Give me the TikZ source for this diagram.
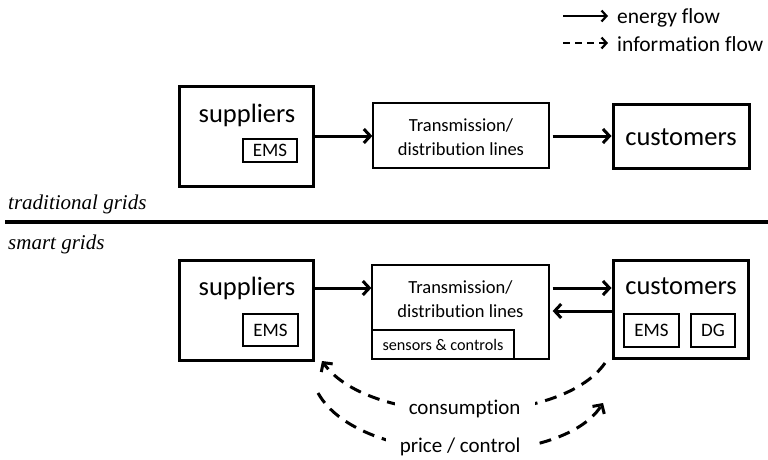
\documentclass[tikz,border=0pt]{standalone}
\usepackage{fontspec}
\setmainfont{Carlito}[Ligatures={NoCommon}]
\newfontfamily\lblfont{Liberation Serif}
\usetikzlibrary{arrows.meta}
\begin{document}
\begin{tikzpicture}[x=1pt,y=-1pt,
  bigbox/.style={draw, line width=3pt, inner sep=0pt},
  thinbox/.style={draw, line width=1.3pt, inner sep=0pt},
  flow/.style={line width=3pt, -{Straight Barb[length=6.5pt,width=14pt]}},
  info/.style={line width=3pt, dash pattern=on 12pt off 8pt, -{Straight Barb[length=6.5pt,width=14pt]}},
  legflow/.style={line width=2.2pt, -{Straight Barb[length=5pt,width=11pt]}},
  leginfo/.style={line width=2.2pt, dash pattern=on 7pt off 5pt, -{Straight Barb[length=5pt,width=11pt]}},
  bigtxt/.style={font=\fontsize{26.5}{30}\selectfont, inner sep=0pt},
  midtxt/.style={font=\fontsize{18.5}{24}\selectfont, align=center, inner sep=0pt},
  subbox/.style={thinbox, font=\fontsize{19}{22}\selectfont},
  sectlbl/.style={font=\lblfont\itshape\fontsize{21}{24}\selectfont, anchor=base west, inner sep=0pt},
  legtxt/.style={font=\fontsize{21.5}{24}\selectfont, anchor=base west, inner sep=0pt},
  flowlbl/.style={font=\fontsize{21}{24}\selectfont, fill=white, inner xsep=14pt, inner ysep=1pt}
]
\useasboundingbox (0,0) rectangle (768,459);

% legend
\coordinate (l1a) at (563,16);
\coordinate (l1b) at (608,16);
\coordinate (l2a) at (563,43);
\coordinate (l2b) at (608,43);
\draw[legflow] (l1a) -- (l1b);
\draw[leginfo] (l2a) -- (l2b);
\node[legtxt] (leg1) at (617,23) {energy flow};
\node[legtxt] (leg2) at (617,51) {information flow};

% traditional grids
\node[bigbox, minimum width=134pt, minimum height=100pt] (sup1) at (246,136) {};
\node[bigtxt, anchor=base] (sup1t) at (247,122) {suppliers};
\node[subbox, minimum width=54pt, minimum height=23pt] (ems1) at (270,150.5) {EMS};
\node[thinbox, minimum width=176pt, minimum height=65pt] (tr1) at (461,135.5) {};
\node[midtxt] (tr1t) at (461,137) {Transmission/\\distribution lines};
\node[bigbox, minimum width=136pt, minimum height=64pt] (cus1) at (681,136) {};
\node[bigtxt, anchor=base] (cus1t) at (681,145) {customers};
\draw[flow] (sup1.east |- 0,136) -- (tr1.west |- 0,136);
\draw[flow, shorten <=3pt] (tr1.east |- 0,136) -- (cus1.west |- 0,136);

\node[sectlbl] (trad) at (8,209) {traditional grids};
\coordinate (divL) at (5,222);
\coordinate (divR) at (768,222);
\draw[line width=3.5pt] (divL) -- (divR);
\node[sectlbl] (smart) at (8,249) {smart grids};

% smart grids
\node[bigbox, minimum width=134pt, minimum height=100pt] (sup2) at (246,310) {};
\node[bigtxt, anchor=base] (sup2t) at (247,295) {suppliers};
\node[subbox, minimum width=55pt, minimum height=32pt] (ems2) at (270.5,330) {EMS};
\node[thinbox, minimum width=177pt, minimum height=94pt] (tr2) at (460.5,312) {};
\node[midtxt] (tr2t) at (460.5,299.5) {Transmission/\\distribution lines};
\node[thinbox, minimum width=142pt, minimum height=29pt, font=\fontsize{16.2}{19}\selectfont] (sens) at (443,344.5) {sensors \& controls};
\node[bigbox, minimum width=135pt, minimum height=98pt] (cus2) at (680.5,309) {};
\node[bigtxt, anchor=base] (cus2t) at (681,294) {customers};
\node[subbox, minimum width=55pt, minimum height=33pt] (ems3) at (651.5,330.5) {EMS};
\node[subbox, minimum width=44pt, minimum height=33pt] (dg) at (713,330.5) {DG};

\draw[flow] (sup2.east |- 0,288) -- (tr2.west |- 0,288);
\draw[flow, shorten <=3pt] (tr2.east |- 0,288) -- (cus2.west |- 0,288);
\draw[flow, shorten >=3pt] (cus2.west |- 0,311) -- (tr2.east |- 0,311);

\coordinate (cA) at (605,363);
\coordinate (cB) at (322,361);
\coordinate (pA) at (318,393);
\coordinate (pB) at (603,403);
\draw[info] (cA) .. controls (560,428) and (370,428) .. (cB)
  node[flowlbl, pos=0.5, yshift=3pt] (cons) {consumption};
\draw[info] (pA) .. controls (360,468) and (560,470) .. (pB)
  node[flowlbl, pos=0.5, yshift=4pt] (price) {price / control};
\end{tikzpicture}
\end{document}
